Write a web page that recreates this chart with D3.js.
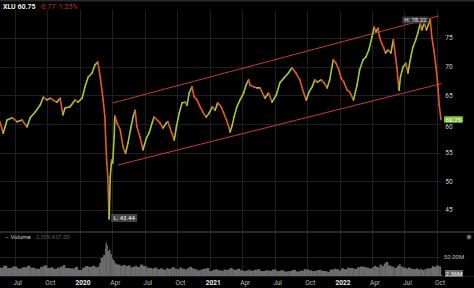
<!doctype html>
<html lang="en">
<head>
<meta charset="utf-8">
<script src="https://cdnjs.cloudflare.com/ajax/libs/d3/7.8.5/d3.min.js"></script>
<style>
  body { margin: 0; background: #000; }
  svg { display: block; font-family: Roboto, sans-serif; }
</style>
</head>
<body>
<script>
// price series (close values)
const dates = [
  "2019-05-21","2019-05-30","2019-06-10","2019-06-24","2019-07-08","2019-07-22","2019-08-05","2019-08-14","2019-08-28","2019-09-11",
  "2019-09-20","2019-09-30","2019-10-09","2019-10-17","2019-10-28","2019-11-06","2019-11-14","2019-11-20","2019-12-04","2019-12-18",
  "2019-12-26","2020-01-07","2020-01-15","2020-01-24","2020-02-04","2020-02-12","2020-02-20","2020-02-24","2020-02-28","2020-03-06",
  "2020-03-11","2020-03-13","2020-03-16","2020-03-19","2020-03-23","2020-03-26","2020-03-30","2020-04-02","2020-04-06","2020-04-08",
  "2020-04-14","2020-04-23","2020-05-01","2020-05-08","2020-05-15","2020-05-22","2020-05-29","2020-06-04","2020-06-09","2020-06-18",
  "2020-06-26","2020-07-06","2020-07-13","2020-07-22","2020-07-27","2020-08-05","2020-08-13","2020-08-21","2020-08-31","2020-09-04",
  "2020-09-14","2020-09-22","2020-09-28","2020-10-06","2020-10-14","2020-10-23","2020-10-28","2020-11-03","2020-11-11","2020-11-17",
  "2020-11-25","2020-12-04","2020-12-11","2020-12-21","2020-12-29","2021-01-07","2021-01-15","2021-01-22","2021-02-01","2021-02-08",
  "2021-02-16","2021-02-22","2021-02-26","2021-03-04","2021-03-09","2021-03-17","2021-03-26","2021-04-05","2021-04-12","2021-04-19",
  "2021-04-23","2021-05-03","2021-05-13","2021-05-21","2021-06-04","2021-06-14","2021-06-24","2021-07-06","2021-07-16","2021-07-27",
  "2021-08-09","2021-08-19","2021-08-30","2021-09-10","2021-09-21","2021-09-28","2021-10-06","2021-10-15","2021-10-22","2021-10-29",
  "2021-11-09","2021-11-17","2021-11-26","2021-12-03","2021-12-13","2021-12-21","2021-12-29","2022-01-04","2022-01-12","2022-01-21",
  "2022-01-28","2022-02-08","2022-02-18","2022-02-25","2022-03-07","2022-03-15","2022-03-23","2022-04-01","2022-04-07","2022-04-12",
  "2022-04-18","2022-04-22","2022-04-28","2022-05-04","2022-05-09","2022-05-16","2022-05-24","2022-05-31","2022-06-03","2022-06-10",
  "2022-06-16","2022-06-20","2022-06-27","2022-07-05","2022-07-11","2022-07-19","2022-07-25","2022-08-02","2022-08-08","2022-08-15",
  "2022-08-19","2022-08-26","2022-09-01","2022-09-12","2022-09-16","2022-09-22","2022-09-28","2022-10-03","2022-10-07","2022-10-12"
];
const closes = [
  60.4,58.4,60.7,61.1,60.4,60.7,59.5,61.1,62.1,63.3,
  64.7,64.2,64.5,64.2,63.8,64.5,61.6,62.8,63.0,64.2,
  63.8,64.5,66.5,68.2,68.9,70.3,70.8,69.4,67.7,64.2,
  61.2,57.7,53.7,50.8,43.44,50.8,53.7,53.2,57.7,61.4,
  60.2,59.0,56.0,54.9,56.7,59.0,61.2,62.4,59.5,57.7,
  55.5,57.6,58.4,60.2,61.2,60.7,60.2,59.3,60.2,60.4,
  58.6,57.2,59.5,61.9,63.7,63.8,63.3,65.4,66.5,64.7,
  64.2,63.0,62.1,61.2,61.9,63.0,62.4,63.7,63.0,61.9,
  60.7,59.5,58.6,59.8,61.2,63.0,64.2,65.4,66.8,67.7,
  66.8,66.5,66.3,66.3,64.5,65.4,63.8,65.1,67.2,68.0,
  68.9,69.8,68.9,67.7,65.4,64.2,65.6,66.5,67.7,67.3,
  67.7,67.2,66.3,67.7,71.2,70.6,69.4,68.0,67.3,65.9,
  65.6,64.2,66.8,69.4,71.2,71.7,72.9,75.2,76.9,76.1,
  76.7,75.2,74.1,73.3,72.4,72.9,72.4,74.7,73.3,69.8,
  65.9,68.2,69.9,70.6,68.9,71.7,73.4,74.7,75.9,77.6,
  76.4,77.6,76.4,78.22,75.2,72.9,69.9,66.8,63.3,60.75
];
// volume in millions
const volumes = [
  22,27,21,25,20,23,27,22,19,24,
  28,21,23,19,22,25,29,21,20,24,
  16,22,26,24,27,23,25,34,48,55,
  72,88,80,66,70,58,46,42,38,33,
  30,27,29,26,28,23,25,27,24,30,
  26,22,21,19,22,18,20,17,21,19,
  23,20,18,22,19,17,21,24,20,18,
  15,17,19,21,13,16,18,15,14,17,
  16,19,21,18,16,19,15,13,15,17,
  14,16,18,13,15,14,17,13,15,12,
  13,16,12,14,18,17,15,13,14,16,
  14,13,11,17,19,18,14,20,18,22,
  21,19,23,25,24,22,20,23,27,24,
  22,30,26,33,37,28,25,24,21,27,
  31,25,22,20,22,19,18,20,17,19,
  16,18,20,21,26,24,28,27,25,2.36
];
const priceTicks = [45, 50, 55, 60, 65, 70, 75];
// trend channel end points
const channelDates = [["2020-04-01", "2022-10-06"], ["2020-04-17", "2022-10-14"]];
const channelValues = [[63.66, 78.84], [52.85, 67.06]];

const w = 474, h = 288;
const parse = d3.timeParse("%Y-%m-%d");
const data = dates.map((d, i) => ({ date: parse(d), close: closes[i], vol: volumes[i] }));
const last = data[data.length - 1];

const x = d3.scaleTime()
  .domain([new Date(2020, 0, 1), new Date(2022, 0, 1)])
  .range([80, 340]);
const y = d3.scaleLinear().domain([45, 75]).range([210, 38]);
const yv = d3.scaleLinear().domain([0, 50]).range([276, 257]);

const svg = d3.select("body").append("svg").attr("width", w).attr("height", h);
svg.append("rect").attr("width", w).attr("height", h).attr("fill", "#000");
svg.append("rect").attr("width", w).attr("height", 1.5).attr("fill", "#2c2c2c");

// grid
const months = d3.timeMonth.every(3).range(new Date(2019, 6, 1), new Date(2022, 9, 2));
svg.append("g").selectAll("line").data(months).join("line")
  .attr("x1", d => Math.round(x(d)) + 0.5).attr("x2", d => Math.round(x(d)) + 0.5)
  .attr("y1", 10).attr("y2", 276)
  .attr("stroke", "#202020");
svg.append("g").selectAll("line").data(priceTicks).join("line")
  .attr("x1", 0).attr("x2", 441)
  .attr("y1", d => Math.round(y(d)) + 0.5).attr("y2", d => Math.round(y(d)) + 0.5)
  .attr("stroke", "#202020");
svg.append("line").attr("x1", 0).attr("x2", 441)
  .attr("y1", Math.round(yv(50)) + 0.5).attr("y2", Math.round(yv(50)) + 0.5)
  .attr("stroke", "#202020");

// panel separators
svg.append("line").attr("x1", 0).attr("x2", w).attr("y1", 232).attr("y2", 232)
  .attr("stroke", "#3a3a3a").attr("stroke-width", 1.5);
svg.append("line").attr("x1", 0).attr("x2", w).attr("y1", 276.5).attr("y2", 276.5)
  .attr("stroke", "#1c1c1c");

// price axis labels (the one under the last-price badge is nudged below it)
svg.append("g").selectAll("text").data(priceTicks).join("text")
  .attr("x", 449)
  .attr("y", d => Math.abs(y(d) - y(last.close)) < 7 ? y(last.close) + 7 : y(d))
  .attr("dy", "0.35em")
  .attr("text-anchor", "middle").attr("font-size", 6.5).attr("fill", "#cfcfcf")
  .text(d => d);

// volume bars
svg.append("g").selectAll("rect").data(data).join("rect")
  .attr("x", d => x(d.date))
  .attr("width", (d, i) => i < data.length - 1 ? x(data[i + 1].date) - x(d.date) + 0.2 : 1.5)
  .attr("y", d => yv(d.vol))
  .attr("height", d => yv(0) - yv(d.vol))
  .attr("fill", "#6e6e6e");

// channel
channelDates.forEach((cd, i) => {
  svg.append("line")
    .attr("x1", x(parse(cd[0]))).attr("y1", y(channelValues[i][0]))
    .attr("x2", x(parse(cd[1]))).attr("y2", y(channelValues[i][1]))
    .attr("stroke", "#c93a36").attr("stroke-width", 1);
});

// price segments, coloured by direction
const segs = data.slice(1).map((d, i) => ({ a: data[i], b: d }));
svg.append("g").selectAll("line").data(segs).join("line")
  .attr("x1", d => x(d.a.date)).attr("y1", d => y(d.a.close))
  .attr("x2", d => x(d.b.date)).attr("y2", d => y(d.b.close))
  .attr("stroke", d => d.b.close >= d.a.close ? "#a2c83a" : "#e4582c")
  .attr("stroke-width", 1.6).attr("stroke-linecap", "round");

// high / low labels
const hi = data[d3.maxIndex(data, d => d.close)];
const lo = data[d3.minIndex(data, d => d.close)];
svg.append("rect").attr("x", x(hi.date) - 28).attr("y", y(hi.close) - 3).attr("width", 26).attr("height", 7).attr("fill", "#3a3a3a");
svg.append("text").attr("x", x(hi.date) - 15).attr("y", y(hi.close) + 0.5).attr("dy", "0.35em")
  .attr("text-anchor", "middle").attr("font-size", 6).attr("fill", "#e6e6e6").text("H: " + hi.close.toFixed(2));
svg.append("rect").attr("x", x(lo.date) + 2).attr("y", y(lo.close) - 5).attr("width", 26).attr("height", 8).attr("fill", "#444");
svg.append("text").attr("x", x(lo.date) + 15).attr("y", y(lo.close) - 1).attr("dy", "0.35em")
  .attr("text-anchor", "middle").attr("font-size", 6).attr("fill", "#f0f0f0").text("L: " + lo.close.toFixed(2));

// last price badge
svg.append("rect").attr("x", 444).attr("y", y(last.close) - 3.5).attr("width", 19).attr("height", 6.5).attr("rx", 1).attr("fill", "#86c43c");
svg.append("text").attr("x", 453.5).attr("y", y(last.close) - 0.2).attr("dy", "0.35em")
  .attr("text-anchor", "middle").attr("font-size", 6).attr("fill", "#f2ffe0").text(last.close.toFixed(2));

// header
const head = svg.append("text").attr("x", 3).attr("y", 8.5).attr("font-size", 7);
head.append("tspan").attr("font-weight", "bold").attr("fill", "#f0f0f0").text("XLU 60.75");
head.append("tspan").attr("dx", 4).attr("fill", "#c8302c").text("-0.77  -1.25%");

// volume legend
const vl = svg.append("text").attr("x", 5).attr("y", 239).attr("font-size", 6);
vl.append("tspan").attr("fill", "#cfcfcf").text("– Volume");
vl.append("tspan").attr("dx", 2).attr("fill", "#5c5c5c").text(": 2,359,437.00");
svg.append("circle").attr("cx", 469).attr("cy", 237).attr("r", 2.5).attr("fill", "#555");
svg.append("circle").attr("cx", 469).attr("cy", 237).attr("r", 0.8).attr("fill", "#bbb");

svg.append("text").attr("x", 454).attr("y", yv(50)).attr("dy", "0.35em")
  .attr("text-anchor", "middle").attr("font-size", 6).attr("fill", "#bdbdbd").text("50.00M");
svg.append("rect").attr("x", 445).attr("y", 270).attr("width", 18).attr("height", 7).attr("fill", "#6a6a6a");
svg.append("text").attr("x", 454).attr("y", 273.5).attr("dy", "0.35em")
  .attr("text-anchor", "middle").attr("font-size", 6).attr("fill", "#f4f4f4").text("2.36M");

// time axis labels
svg.append("g").selectAll("text").data(months).join("text")
  .attr("x", d => x(d) + 3).attr("y", 283).attr("dy", "0.35em")
  .attr("text-anchor", "middle").attr("font-size", 6.5)
  .attr("font-weight", d => d.getMonth() === 0 ? "bold" : "normal")
  .attr("fill", d => d.getMonth() === 0 ? "#f0f0f0" : "#bdbdbd")
  .text(d => d.getMonth() === 0 ? d3.timeFormat("%Y")(d) : d3.timeFormat("%b")(d));
</script>
</body>
</html>
